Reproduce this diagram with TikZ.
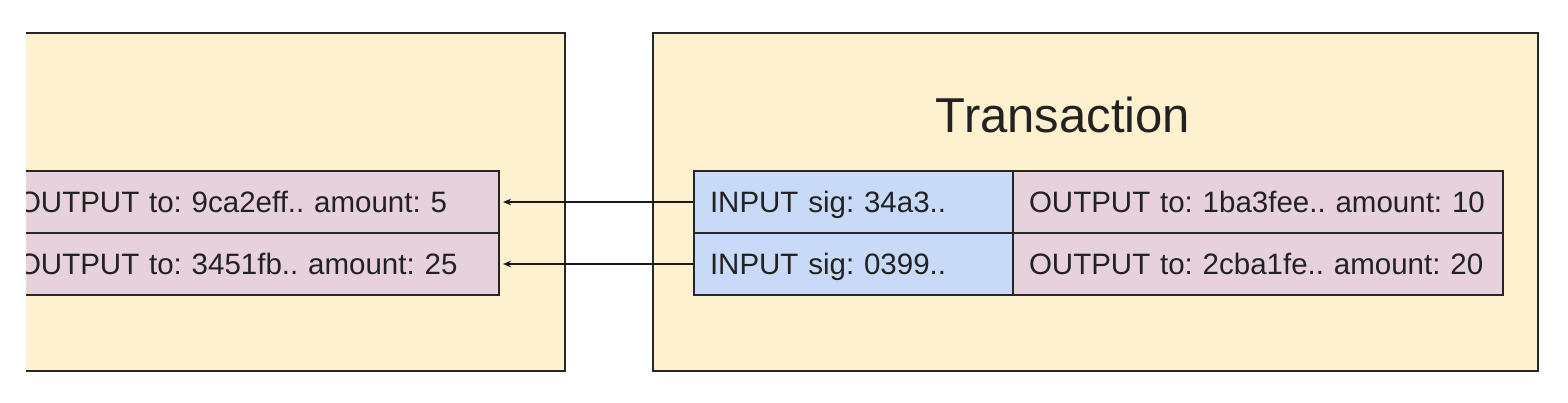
\documentclass[tikz,border=0pt]{standalone}
\usepackage{fontspec}
\setmainfont{Liberation Sans}
\usetikzlibrary{arrows.meta}
\frenchspacing
\definecolor{boxfill}{HTML}{FDF1CF}
\definecolor{infill}{HTML}{C9DAF8}
\definecolor{outfill}{HTML}{E6D1DD}
\definecolor{ink}{HTML}{222222}
\tikzset{
  txbox/.style={draw=black!85, line width=2.8pt, fill=boxfill},
  cell/.style={draw=black!85, line width=1.1pt, rectangle, minimum height=62pt,
    inner xsep=16pt, inner ysep=0pt, align=left, text=ink,
    text height=21pt, text depth=0pt,
    font=\fontsize{29.5}{34}\selectfont},
  incell/.style={cell, fill=infill, text width=287pt},
  outcell/.style={cell, fill=outfill, text width=458pt},
  leftcell/.style={cell, fill=outfill, text width=465pt},
  link/.style={draw=black!90, line width=1.2pt, -{Stealth[length=8pt,width=6.5pt]}, shorten >=3.5pt},
}
\begin{document}
\begin{tikzpicture}[x=1pt,y=-1pt]
\useasboundingbox (0,0) rectangle (1568,402);
\begin{scope}
\clip (26,0) rectangle (1568,402);
% left transaction box (cut off)
\draw[txbox] (-10,33) rectangle (565,371);
\node[leftcell] (lo1) at (250.5,202) {OUTPUT to: 9ca2eff.. amount: 5};
\node[leftcell] (lo2) at (250.5,264) {OUTPUT to: 3451fb.. amount: 25};
% right transaction box
\draw[txbox] (653,33) rectangle (1538,371);
\node[text=ink, font=\fontsize{49}{56}\selectfont] (title) at (1063,115) {Transaction};
\node[incell] (i1) at (853.5,202) {INPUT sig: 34a3..};
\node[incell] (i2) at (853.5,264) {INPUT sig: 0399..};
\node[outcell] (o1) at (1258,202) {OUTPUT to: 1ba3fee.. amount: 10};
\node[outcell] (o2) at (1258,264) {OUTPUT to: 2cba1fe.. amount: 20};
% connectors
\draw[link] (i1.west) -- (lo1.east);
\draw[link] (i2.west) -- (lo2.east);
\end{scope}
\end{tikzpicture}
\end{document}
